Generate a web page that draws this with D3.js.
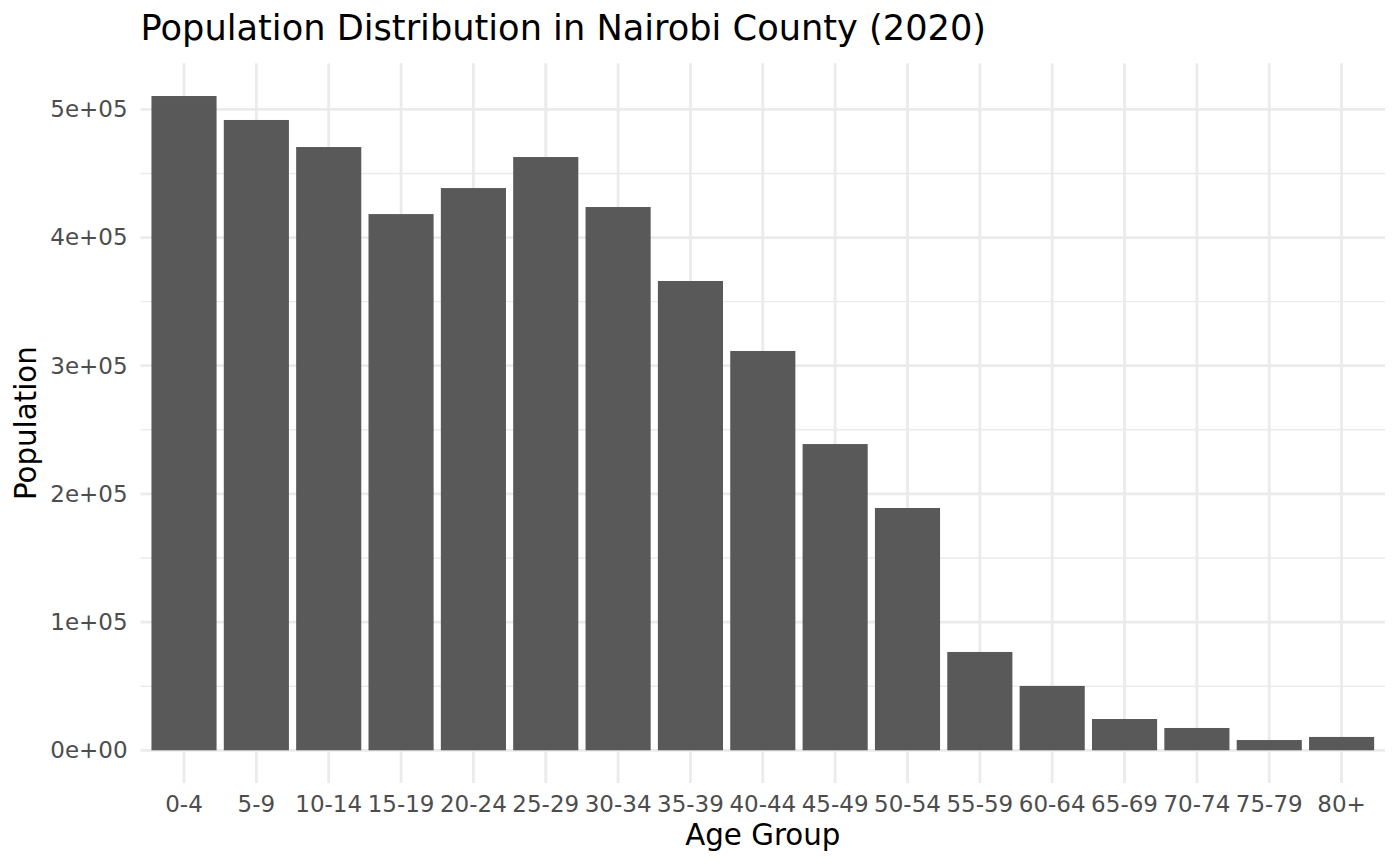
<!DOCTYPE html>
<html>
<head>
<meta charset="utf-8">
<script src="https://cdn.jsdelivr.net/npm/d3@7"></script>
<style>
  body { margin: 0; background: #fff; }
  svg { display: block; font-family: "DejaVu Sans", sans-serif; }
</style>
</head>
<body>
<script>
// data
var ageGroups = ["0-4","5-9","10-14","15-19","20-24","25-29","30-34","35-39","40-44",
                 "45-49","50-54","55-59","60-64","65-69","70-74","75-79","80+"];
var population = [510400, 491700, 470600, 418300, 438600, 462800, 423800, 366100, 311500,
                  238900, 189000, 76700, 50200, 24400, 17400, 8000, 10400];
var yTicks = [0, 100000, 200000, 300000, 400000, 500000];
var yTickLabels = ["0e+00", "1e+05", "2e+05", "3e+05", "4e+05", "5e+05"];
var yMinorTicks = [50000, 150000, 250000, 350000, 450000];

var width = 1400, height = 866;
var panel = {left: 140.6, right: 1385, top: 63.3, bottom: 783};

var svg = d3.select("body").append("svg")
    .attr("width", width)
    .attr("height", height);

var yMax = d3.max(population);
var xScale = d3.scaleBand()
    .domain(ageGroups)
    .range([panel.left, panel.right])
    .paddingInner(0.1)
    .paddingOuter(0.15);
var yScale = d3.scaleLinear()
    .domain([-0.05 * yMax, 1.05 * yMax])
    .range([panel.bottom, panel.top]);

// grid lines (theme_minimal)
var grid = svg.append("g");
grid.selectAll(".minor").data(yMinorTicks).enter().append("line")
    .attr("x1", panel.left).attr("x2", panel.right)
    .attr("y1", d => yScale(d)).attr("y2", d => yScale(d))
    .attr("stroke", "#ebebeb").attr("stroke-width", 1.4);
grid.selectAll(".majorY").data(yTicks).enter().append("line")
    .attr("x1", panel.left).attr("x2", panel.right)
    .attr("y1", d => yScale(d)).attr("y2", d => yScale(d))
    .attr("stroke", "#ebebeb").attr("stroke-width", 2.8);
grid.selectAll(".majorX").data(ageGroups).enter().append("line")
    .attr("x1", d => xScale(d) + xScale.bandwidth() / 2)
    .attr("x2", d => xScale(d) + xScale.bandwidth() / 2)
    .attr("y1", panel.top).attr("y2", panel.bottom)
    .attr("stroke", "#ebebeb").attr("stroke-width", 2.8);

// bars
svg.append("g").selectAll("rect").data(population).enter().append("rect")
    .attr("x", (d, i) => xScale(ageGroups[i]))
    .attr("width", xScale.bandwidth())
    .attr("y", d => yScale(d))
    .attr("height", d => yScale(0) - yScale(d))
    .attr("fill", "#595959");

// axes, without lines or ticks
var yAxis = d3.axisLeft(yScale)
    .tickValues(yTicks)
    .tickFormat((d, i) => yTickLabels[i])
    .tickSize(0).tickPadding(13);
svg.append("g")
    .attr("transform", "translate(" + panel.left + ",0)")
    .call(yAxis)
    .call(g => g.select(".domain").remove())
    .selectAll("text")
    .attr("fill", "#4d4d4d")
    .style("font-size", "23px")
    .style("font-family", "DejaVu Sans");

var xAxis = d3.axisBottom(xScale).tickSize(0).tickPadding(13);
svg.append("g")
    .attr("transform", "translate(0," + panel.bottom + ")")
    .call(xAxis)
    .call(g => g.select(".domain").remove())
    .selectAll("text")
    .attr("fill", "#4d4d4d")
    .style("font-size", "23px")
    .style("font-family", "DejaVu Sans");

// titles
svg.append("text")
    .attr("x", panel.left).attr("y", 40)
    .style("font-size", "35.2px")
    .attr("fill", "#000")
    .text("Population Distribution in Nairobi County (2020)");

svg.append("text")
    .attr("x", (panel.left + panel.right) / 2).attr("y", 845)
    .attr("text-anchor", "middle")
    .style("font-size", "29.3px")
    .attr("fill", "#000")
    .text("Age Group");

svg.append("text")
    .attr("transform", "translate(36," + (panel.top + panel.bottom) / 2 + ") rotate(-90)")
    .attr("text-anchor", "middle")
    .style("font-size", "29.3px")
    .attr("fill", "#000")
    .text("Population");
</script>
</body>
</html>
